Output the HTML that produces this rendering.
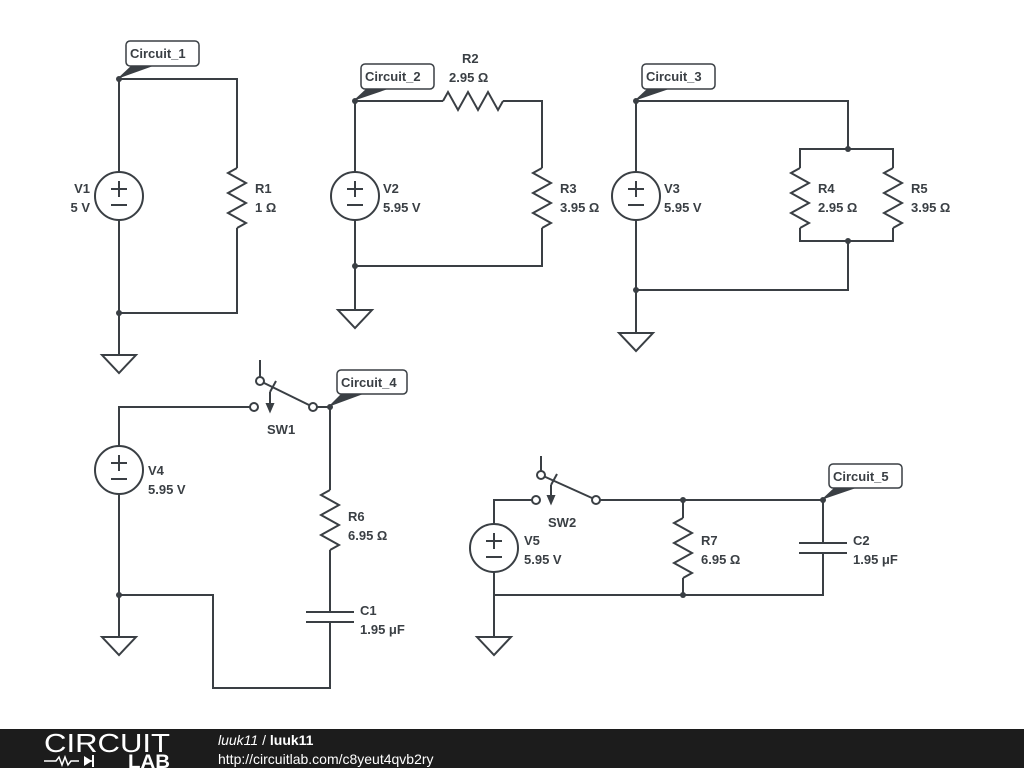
<!DOCTYPE html>
<html><head><meta charset="utf-8"><style>
body{margin:0;width:1024px;height:768px;background:#fff;overflow:hidden;font-family:"Liberation Sans",sans-serif}
svg text{font-family:"Liberation Sans",sans-serif;font-weight:bold;font-size:13px;fill:#3a3f44}
</style></head><body>
<svg width="1024" height="768" viewBox="0 0 1024 768" xmlns="http://www.w3.org/2000/svg">
<defs>
<g id="gnd"><polygon points="-17,0 17,0 0,18" fill="#fff" stroke="#3a3f44" stroke-width="2"/></g>
<g id="src"><circle r="24" fill="#fff" stroke="#3a3f44" stroke-width="2"/><line x1="-8" y1="-7" x2="8" y2="-7"/><line x1="0" y1="-15" x2="0" y2="1"/><line x1="-8" y1="9" x2="8" y2="9"/></g>
<path id="rv" d="M0,0 l-9,5 l18,10 l-18,10 l18,10 l-18,10 l18,10 l-9,5" fill="none"/>
<path id="rh" d="M0,0 l5,-9 l10,18 l10,-18 l10,18 l10,-18 l10,18 l5,-9" fill="none"/>
</defs>
<g stroke="#3a3f44" stroke-width="2" fill="none">
<polyline points="119,172 119,79 237,79 237,168"/>
<use href="#rv" x="237" y="168"/>
<polyline points="237,228 237,313 119,313 119,220"/>
<line x1="119" y1="313" x2="119" y2="355"/><use href="#gnd" x="119" y="355"/>
<use href="#src" x="119" y="196"/>
<polyline points="355,172 355,101 443,101"/>
<use href="#rh" x="443" y="101"/>
<polyline points="503,101 542,101 542,168"/>
<use href="#rv" x="542" y="168"/>
<polyline points="542,228 542,266 355,266 355,220"/>
<line x1="355" y1="266" x2="355" y2="310"/><use href="#gnd" x="355" y="310"/>
<use href="#src" x="355" y="196"/>
<polyline points="636,172 636,101 848,101 848,149"/>
<polyline points="800,168 800,149 893,149 893,168"/>
<use href="#rv" x="800" y="168"/><use href="#rv" x="893" y="168"/>
<polyline points="800,228 800,241 893,241 893,228"/>
<polyline points="848,241 848,290 636,290 636,220"/>
<line x1="636" y1="290" x2="636" y2="333"/><use href="#gnd" x="636" y="333"/>
<use href="#src" x="636" y="196"/>
<polyline points="119,446 119,407 250,407"/>
<line x1="260" y1="360" x2="260" y2="377"/>
<line x1="260" y1="381" x2="309" y2="405"/>
<line x1="276" y1="381" x2="270" y2="392"/>
<line x1="270" y1="392" x2="270" y2="408"/><polygon points="267,404 273,404 270,411" fill="#3a3f44"/>
<circle cx="254" cy="407" r="4" fill="#fff"/><circle cx="260" cy="381" r="4" fill="#fff"/><circle cx="313" cy="407" r="4" fill="#fff"/>
<polyline points="317,407 330,407 330,490"/>
<use href="#rv" x="330" y="490"/>
<polyline points="330,550 330,612"/>
<line x1="306" y1="612" x2="354" y2="612"/><line x1="306" y1="622" x2="354" y2="622"/>
<polyline points="330,622 330,688 213,688 213,595 119,595 119,494"/>
<line x1="119" y1="595" x2="119" y2="637"/><use href="#gnd" x="119" y="637"/>
<use href="#src" x="119" y="470"/>
<polyline points="494,524 494,500 532,500"/>
<line x1="541" y1="456" x2="541" y2="471"/>
<line x1="541" y1="475" x2="592" y2="498"/>
<line x1="557" y1="474" x2="551" y2="485"/>
<line x1="551" y1="485" x2="551" y2="500"/><polygon points="548,496 554,496 551,503" fill="#3a3f44"/>
<circle cx="536" cy="500" r="4" fill="#fff"/><circle cx="541" cy="475" r="4" fill="#fff"/><circle cx="596" cy="500" r="4" fill="#fff"/>
<polyline points="600,500 823,500 823,543"/>
<line x1="683" y1="500" x2="683" y2="518"/>
<use href="#rv" x="683" y="518"/>
<line x1="683" y1="578" x2="683" y2="595"/>
<line x1="799" y1="543" x2="847" y2="543"/><line x1="799" y1="553" x2="847" y2="553"/>
<polyline points="823,553 823,595 494,595 494,572"/>
<line x1="494" y1="595" x2="494" y2="637"/><use href="#gnd" x="494" y="637"/>
<use href="#src" x="494" y="548"/>
</g>
<g fill="#3a3f44">
<circle cx="119" cy="79" r="3"/><circle cx="119" cy="313" r="3"/>
<circle cx="355" cy="101" r="3"/><circle cx="355" cy="266" r="3"/>
<circle cx="636" cy="101" r="3"/><circle cx="848" cy="149" r="3"/><circle cx="848" cy="241" r="3"/><circle cx="636" cy="290" r="3"/>
<circle cx="330" cy="407" r="3"/><circle cx="119" cy="595" r="3"/>
<circle cx="683" cy="500" r="3"/><circle cx="823" cy="500" r="3"/><circle cx="683" cy="595" r="3"/>
<polygon points="117,79 132,65 156,65"/>
<polygon points="353,101 367,88 391,88"/>
<polygon points="634,101 648,88 672,88"/>
<polygon points="328,407 342,393 366,393"/>
<polygon points="821,500 835,487 859,487"/>
</g>
<g fill="#fff" stroke="#3a3f44" stroke-width="1.5">
<rect x="126" y="41" width="73" height="25" rx="4"/>
<rect x="361" y="64" width="73" height="25" rx="4"/>
<rect x="642" y="64" width="73" height="25" rx="4"/>
<rect x="337" y="370" width="70" height="24" rx="4"/>
<rect x="829" y="464" width="73" height="24" rx="4"/>
</g>
<text x="130" y="58">Circuit_1</text>
<text x="365" y="81">Circuit_2</text>
<text x="646" y="81">Circuit_3</text>
<text x="341" y="387">Circuit_4</text>
<text x="833" y="481">Circuit_5</text>
<g text-anchor="end"><text x="90" y="193">V1</text><text x="90" y="212">5 V</text></g>
<text x="255" y="193">R1</text><text x="255" y="212">1 Ω</text>
<text x="383" y="193">V2</text><text x="383" y="212">5.95 V</text>
<text x="462" y="63">R2</text><text x="449" y="82">2.95 Ω</text>
<text x="560" y="193">R3</text><text x="560" y="212">3.95 Ω</text>
<text x="664" y="193">V3</text><text x="664" y="212">5.95 V</text>
<text x="818" y="193">R4</text><text x="818" y="212">2.95 Ω</text>
<text x="911" y="193">R5</text><text x="911" y="212">3.95 Ω</text>
<text x="148" y="475">V4</text><text x="148" y="494">5.95 V</text>
<text x="267" y="434">SW1</text>
<text x="348" y="521">R6</text><text x="348" y="540">6.95 Ω</text>
<text x="360" y="615">C1</text><text x="360" y="634">1.95 μF</text>
<text x="524" y="545">V5</text><text x="524" y="564">5.95 V</text>
<text x="548" y="527">SW2</text>
<text x="701" y="545">R7</text><text x="701" y="564">6.95 Ω</text>
<text x="853" y="545">C2</text><text x="853" y="564">1.95 μF</text>
<rect x="0" y="729" width="1024" height="39" fill="#1c1c1c"/>
<text x="44" y="752" textLength="126" lengthAdjust="spacingAndGlyphs" style="font-weight:normal;font-size:26px;fill:#fff">CIRCUIT</text>
<path d="M44,761 h12 l3,-4 l3,8 l3,-8 l3,8 l3,-4 h8 M84,761 h10" stroke="#fff" stroke-width="1.5" fill="none"/>
<polygon points="84,756 84,766 92,761" fill="#fff"/><line x1="93" y1="755" x2="93" y2="767" stroke="#fff" stroke-width="2"/>
<text x="128" y="768" textLength="42" lengthAdjust="spacingAndGlyphs" style="font-size:19px;fill:#fff">LAB</text>
<text x="218" y="745" style="font-weight:normal;font-size:14px;fill:#fff"><tspan font-style="italic">luuk11</tspan> / <tspan font-weight="bold">luuk11</tspan></text>
<text x="218" y="764" style="font-weight:normal;font-size:14px;fill:#fff">http://circuitlab.com/c8yeut4qvb2ry</text>
</svg>
</body></html>
